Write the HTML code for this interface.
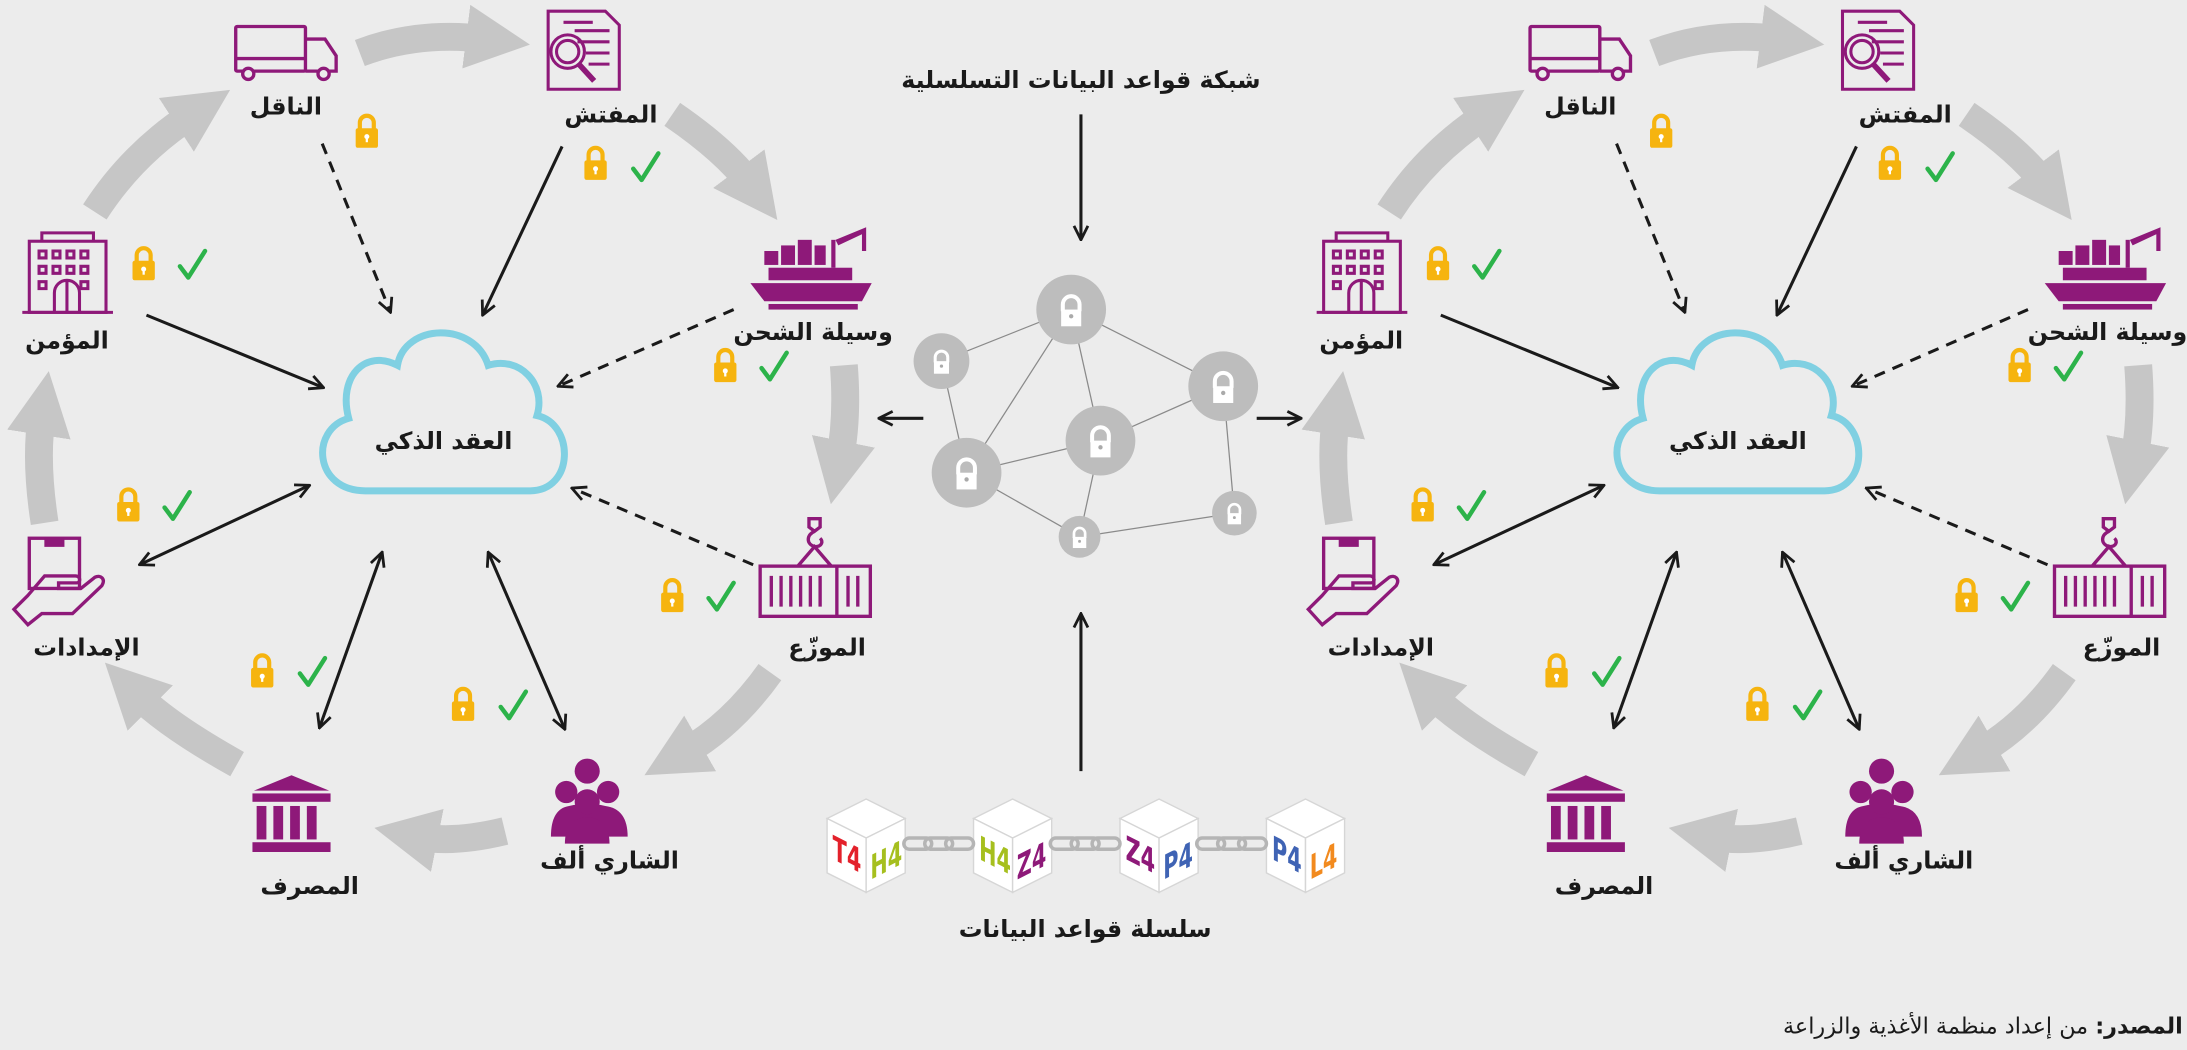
<!DOCTYPE html>
<html><head><meta charset="utf-8"><style>
html,body{margin:0;padding:0;background:#ececec;}
svg{display:block;}
text{font-family:"DejaVu Sans","Liberation Sans",sans-serif;}
</style></head><body>
<svg width="2187" height="1050" viewBox="0 0 1568 753" preserveAspectRatio="none" xmlns="http://www.w3.org/2000/svg">
<defs>
<marker id="ga" viewBox="0 0 10 10" refX="3" refY="5" markerWidth="2.3" markerHeight="2.3" orient="auto"><path d="M0,0 L10,5 L0,10 z" fill="#c6c6c6"/></marker>
<marker id="ba" viewBox="0 0 12 12" refX="11" refY="6" markerWidth="12" markerHeight="12" markerUnits="userSpaceOnUse" orient="auto-start-reverse"><path d="M1,1 L11,6 L1,11" fill="none" stroke="#1a1a1a" stroke-width="2"/></marker>
<g id="lock"><path d="M-5,-2 V-7 A5,5 0 0 1 5,-7 V-2" fill="none" stroke="#f6b40f" stroke-width="3"/><rect x="-8" y="-3" width="16" height="14" rx="1.5" fill="#f6b40f"/><circle cx="0" cy="3" r="1.8" fill="#fff"/><rect x="-0.8" y="3" width="1.6" height="4" fill="#fff"/></g>
<path id="chk" d="M-8,1 L-2,9 L10,-10" fill="none" stroke="#2cb34a" stroke-width="3.2" stroke-linecap="round" stroke-linejoin="round"/>
<g id="wl"><path d="M-5,1 V-3 A5,5 0 0 1 5,-3 V1" fill="none" stroke="#fff" stroke-width="2.4"/><rect x="-6" y="0" width="12" height="10" fill="#fff"/><circle cx="0" cy="4" r="1.3" fill="#aaa"/></g>

<g id="cluster">
 <g fill="none" stroke="#c6c6c6" stroke-width="20" marker-end="url(#ga)">
  <path d="M258,38 Q300,22 348,28"/>
  <path d="M482,82 Q520,108 538,132"/>
  <path d="M605,262 Q608,300 602,330"/>
  <path d="M552,482 Q525,520 490,540"/>
  <path d="M362,596 Q325,605 300,600"/>
  <path d="M170,548 Q120,520 98,498"/>
  <path d="M32,375 Q25,330 30,298"/>
  <path d="M68,152 Q95,110 138,82"/>
 </g>
 <g fill="none" stroke="#1a1a1a" stroke-width="2.2">
  <path d="M231,103 L280,224" stroke-dasharray="8,6" marker-end="url(#ba)"/>
  <path d="M403,105 L346,226" marker-end="url(#ba)"/>
  <path d="M105,226 L232,278" marker-end="url(#ba)"/>
  <path d="M526,222 L400,277" stroke-dasharray="8,6" marker-end="url(#ba)"/>
  <path d="M540,405 L410,350" stroke-dasharray="8,6" marker-end="url(#ba)"/>
  <path d="M100,405 L222,348" marker-start="url(#ba)" marker-end="url(#ba)"/>
  <path d="M229,522 L274,396" marker-start="url(#ba)" marker-end="url(#ba)"/>
  <path d="M405,523 L350,396" marker-start="url(#ba)" marker-end="url(#ba)"/>
 </g>
 <path d="M262,352 C225,352 222,308 250,300 C242,270 262,250 285,262 C290,232 340,230 350,262 C372,255 392,275 385,298 C412,304 412,352 380,352 Z" fill="none" stroke="#80d0e2" stroke-width="5"/>
 <text x="318" y="322" text-anchor="middle" font-size="17" font-weight="bold" fill="#1a1a1a">العقد الذكي</text>

 <g fill="none" stroke="#8e1979" stroke-width="2.4">
  <rect x="169" y="19" width="50" height="32" rx="1"/>
  <path d="M219,28 H233 L241,40 V51 H219"/>
  <path d="M169,42 H219"/>
  <circle cx="178" cy="53" r="4" fill="#ececec"/><circle cx="232" cy="53" r="4" fill="#ececec"/>
 </g>
 <text x="205" y="82" text-anchor="middle" font-size="17" font-weight="bold" fill="#1a1a1a">الناقل</text>
 <g fill="none" stroke="#8e1979" stroke-width="2.2">
  <path d="M393,8 H434 L444,18 V64 H393 Z"/>
  <path d="M404,16 H425 M412,22 H437 M414,30 H437 M420,38 H437 M422,46 H437"/>
  <circle cx="407" cy="37" r="12"/><circle cx="407" cy="37" r="8"/>
  <path d="M415,46 L426,58" stroke-width="4"/>
 </g>
 <text x="438" y="88" text-anchor="middle" font-size="17" font-weight="bold" fill="#1a1a1a">المفتش</text>
 <g fill="#8e1979">
  <path d="M538,203 H625 L618,216 H548 Z"/>
  <rect x="551" y="192" width="60" height="9"/>
  <rect x="548" y="180" width="10" height="10"/><rect x="560" y="176" width="10" height="14"/><rect x="572" y="172" width="10" height="18"/><rect x="584" y="176" width="8" height="14"/>
  <rect x="596" y="172" width="3" height="20"/><path d="M599,172 L621,163 V180 H618 V168 L601,176 Z"/>
  <rect x="551" y="218" width="64" height="4"/>
 </g>
 <text x="583" y="244" text-anchor="middle" font-size="17" font-weight="bold" fill="#1a1a1a">وسيلة الشحن</text>
 <g fill="none" stroke="#8e1979" stroke-width="2.4">
  <rect x="545" y="406" width="79" height="36"/>
  <path d="M600,406 V442"/>
  <path d="M553,413 V435 M560,413 V435 M567,413 V435 M574,413 V435 M581,413 V435 M588,413 V435 M608,413 V435 M615,413 V435"/>
  <path d="M572,406 L584,392 L596,406"/>
  <path d="M580,372 H588 V378 L584,381 L580,378 Z M584,381 C578,384 578,390 584,392 C590,392 590,388 588,386"/>
 </g>
 <text x="593" y="470" text-anchor="middle" font-size="17" font-weight="bold" fill="#1a1a1a">الموزّع</text>
 <g fill="#8e1979">
  <circle cx="421" cy="553" r="9"/>
  <circle cx="406" cy="568" r="8"/><circle cx="436" cy="568" r="8"/>
  <path d="M395,600 Q395,580 408,578 Q421,575 434,578 Q450,580 450,600 Z"/>
  <circle cx="421" cy="575" r="9"/>
  <path d="M405,605 Q405,587 421,586 Q437,587 437,605 Z"/>
 </g>
 <text x="437" y="623" text-anchor="middle" font-size="17" font-weight="bold" fill="#1a1a1a">الشاري ألف</text>
 <g fill="#8e1979">
  <path d="M209,556 L236,567 H182 Z"/>
  <rect x="181" y="569" width="56" height="6"/>
  <rect x="184" y="578" width="7" height="24"/><rect x="196" y="578" width="7" height="24"/><rect x="208" y="578" width="7" height="24"/><rect x="220" y="578" width="7" height="24"/>
  <rect x="181" y="604" width="56" height="7"/>
 </g>
 <text x="222" y="641" text-anchor="middle" font-size="17" font-weight="bold" fill="#1a1a1a">المصرف</text>
 <g fill="none" stroke="#8e1979" stroke-width="2.4">
  <rect x="21" y="386" width="36" height="36"/>
  <path d="M33,386 V391 H45 V386" fill="#8e1979"/>
  <path d="M20,427 L10,437 L20,448 L30,440 H52 L73,420 C76,415 72,412 68,414 L58,422 H42 V418 H55 C58,418 58,413 54,413 H32 Z"/>
 </g>
 <text x="62" y="470" text-anchor="middle" font-size="17" font-weight="bold" fill="#1a1a1a">الإمدادات</text>
 <g fill="none" stroke="#8e1979" stroke-width="2.2">
  <rect x="21" y="173" width="55" height="51"/>
  <path d="M30,173 V167 H67 V173"/>
  <path d="M16,224 H81"/>
  <path d="M28,180 h5 v5 h-5z M38,180 h5 v5 h-5z M48,180 h5 v5 h-5z M58,180 h5 v5 h-5z M28,191 h5 v5 h-5z M38,191 h5 v5 h-5z M48,191 h5 v5 h-5z M58,191 h5 v5 h-5z M28,202 h5 v5 h-5z M58,202 h5 v5 h-5z"/>
  <path d="M39,224 V210 A9,9 0 0 1 57,210 V224 M48,202 V224"/>
 </g>
 <text x="48" y="250" text-anchor="middle" font-size="17" font-weight="bold" fill="#1a1a1a">المؤمن</text>
 <use href="#lock" x="263" y="95"/>
 <use href="#lock" x="427" y="118"/><use href="#chk" x="462" y="120"/>
 <use href="#lock" x="103" y="190"/><use href="#chk" x="137" y="190"/>
 <use href="#lock" x="520" y="263"/><use href="#chk" x="554" y="263"/>
 <use href="#lock" x="92" y="363"/><use href="#chk" x="126" y="363"/>
 <use href="#lock" x="482" y="428"/><use href="#chk" x="516" y="428"/>
 <use href="#lock" x="188" y="482"/><use href="#chk" x="223" y="482"/>
 <use href="#lock" x="332" y="506"/><use href="#chk" x="367" y="506"/>
</g>

<g id="cube">
 <path d="M0,0 L28,-14 L56,0 L28,14 Z" fill="#fff" stroke="#d6d6d6" stroke-width="1"/>
 <path d="M0,0 L28,14 L28,53 L0,39 Z" fill="#fff" stroke="#d6d6d6" stroke-width="1"/>
 <path d="M28,14 L56,0 L56,39 L28,53 Z" fill="#fff" stroke="#d6d6d6" stroke-width="1"/>
</g>
<g id="chain" fill="none" stroke="#b5b5b5" stroke-width="2.5">
 <rect x="0" y="-4" width="20" height="8" rx="4"/><rect x="15" y="-4" width="20" height="8" rx="4"/><rect x="30" y="-4" width="20" height="8" rx="4"/>
</g>
</defs>

<rect width="1568" height="753" fill="#ececec"/>
<use href="#cluster"/>
<use href="#cluster" x="928"/>

<text x="775" y="63" text-anchor="middle" font-size="17" font-weight="bold" fill="#1a1a1a">شبكة قواعد البيانات التسلسلية</text>
<g fill="none" stroke="#1a1a1a" stroke-width="2.2">
 <path d="M775,82 L775,172" marker-end="url(#ba)"/>
 <path d="M662,300 L630,300" marker-end="url(#ba)"/>
 <path d="M901,300 L933,300" marker-end="url(#ba)"/>
 <path d="M775,553 L775,440" marker-end="url(#ba)"/>
</g>
<g stroke="#8a8a8a" stroke-width="0.9">
 <line x1="768" y1="222" x2="675" y2="259"/><line x1="768" y1="222" x2="693" y2="339"/>
 <line x1="768" y1="222" x2="789" y2="316"/><line x1="768" y1="222" x2="877" y2="277"/>
 <line x1="675" y1="259" x2="693" y2="339"/><line x1="693" y1="339" x2="789" y2="316"/>
 <line x1="693" y1="339" x2="774" y2="385"/><line x1="789" y1="316" x2="877" y2="277"/>
 <line x1="789" y1="316" x2="774" y2="385"/><line x1="877" y1="277" x2="885" y2="368"/>
 <line x1="774" y1="385" x2="885" y2="368"/>
</g>
<g fill="#bdbdbd">
 <circle cx="768" cy="222" r="25"/><circle cx="675" cy="259" r="20"/><circle cx="877" cy="277" r="25"/>
 <circle cx="789" cy="316" r="25"/><circle cx="693" cy="339" r="25"/><circle cx="774" cy="385" r="15"/><circle cx="885" cy="368" r="16"/>
</g>
<use href="#wl" transform="translate(768,222) scale(1.2)"/>
<use href="#wl" transform="translate(675,259) scale(0.9)"/>
<use href="#wl" transform="translate(877,277) scale(1.2)"/>
<use href="#wl" transform="translate(789,316) scale(1.2)"/>
<use href="#wl" transform="translate(693,339) scale(1.2)"/>
<use href="#wl" transform="translate(774,385) scale(0.8)"/>
<use href="#wl" transform="translate(885,368) scale(0.8)"/>

<use href="#cube" x="593" y="587"/>
<use href="#cube" x="698" y="587"/>
<use href="#cube" x="803" y="587"/>
<use href="#cube" x="908" y="587"/>
<use href="#chain" x="648" y="605"/>
<use href="#chain" x="753" y="605"/>
<use href="#chain" x="858" y="605"/>
<g font-family="Liberation Sans, sans-serif" font-weight="bold" font-size="24">
 <text transform="translate(597,616) skewY(27) scale(0.62,1)" fill="#e3212b">T4</text>
 <text transform="translate(624,631) skewY(-27) scale(0.62,1)" fill="#a6bf1e">H4</text>
 <text transform="translate(702,616) skewY(27) scale(0.62,1)" fill="#a6bf1e">H4</text>
 <text transform="translate(729,631) skewY(-27) scale(0.62,1)" fill="#8e1979">Z4</text>
 <text transform="translate(807,616) skewY(27) scale(0.62,1)" fill="#8e1979">Z4</text>
 <text transform="translate(834,631) skewY(-27) scale(0.62,1)" fill="#3f63b4">P4</text>
 <text transform="translate(912,616) skewY(27) scale(0.62,1)" fill="#3f63b4">P4</text>
 <text transform="translate(939,631) skewY(-27) scale(0.62,1)" fill="#f28a1e">L4</text>
</g>
<text x="778" y="672" text-anchor="middle" font-size="17" font-weight="bold" fill="#1a1a1a">سلسلة قواعد البيانات</text>

<text x="1565" y="741" text-anchor="end" font-size="16" fill="#1a1a1a"><tspan font-weight="bold">المصدر:</tspan> من إعداد منظمة الأغذية والزراعة</text>
</svg>
</body></html>
